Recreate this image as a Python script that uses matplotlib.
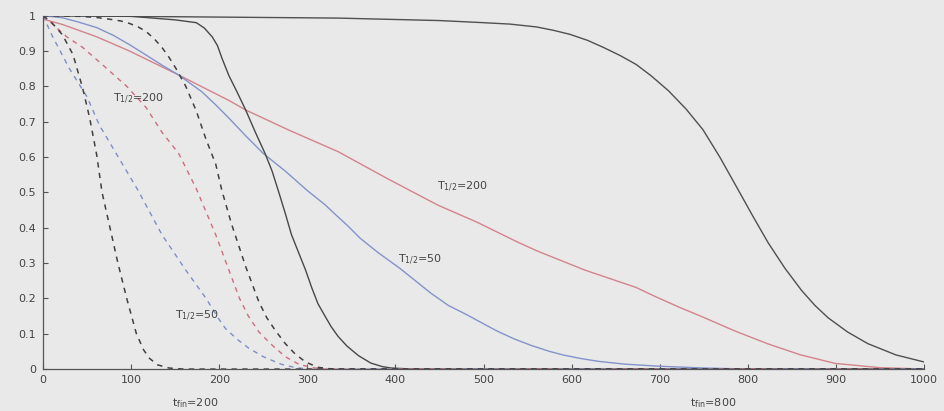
import matplotlib
matplotlib.use("Agg")
import matplotlib.pyplot as plt

plt.rcParams['font.family'] = ['DejaVu Sans']
plt.rcParams['mathtext.default'] = 'regular'

# ---- data ----
# solid black, t_fin = 200
bsa_x = [0, 100, 150, 174, 183, 192, 198, 203, 211, 220, 230, 241, 252, 260, 267, 275, 282, 290, 298,
         305, 312, 320, 327, 335, 345, 358, 372, 385, 395, 420, 1000]
bsa_y = [1.0, 0.998, 0.988, 0.98, 0.965, 0.94, 0.915, 0.88, 0.83, 0.785, 0.733, 0.67, 0.61, 0.56, 0.505,
         0.44, 0.38, 0.33, 0.28, 0.23, 0.185, 0.15, 0.12, 0.092, 0.065, 0.038, 0.017, 0.007, 0.003, 0.0, 0.0]
# solid black, t_fin = 800
bsb_x = [0, 335, 450, 500, 530, 560, 580, 598, 618, 636, 655, 673, 690, 710, 730, 749, 768, 786, 805,
         823, 842, 861, 876, 891, 913, 936, 968, 1000]
bsb_y = [1.0, 0.993, 0.986, 0.98, 0.976, 0.968, 0.958, 0.947, 0.93, 0.91, 0.887, 0.862, 0.83, 0.787,
         0.735, 0.677, 0.60, 0.52, 0.435, 0.357, 0.285, 0.222, 0.18, 0.145, 0.105, 0.072, 0.04, 0.02]
# solid blue, T1/2 = 50
bs_x = [0, 22, 40, 61, 80, 98, 116, 135, 154, 180, 195, 211, 230, 250, 275, 300, 320, 335, 346, 360,
        380, 405, 425, 440, 460, 480, 500, 515, 535, 555, 575, 590, 610, 630, 660, 700, 750, 800, 1000]
bs_y = [1.0, 0.994, 0.982, 0.966, 0.944, 0.918, 0.89, 0.86, 0.832, 0.785, 0.75, 0.71, 0.66, 0.61, 0.56,
        0.505, 0.465, 0.43, 0.405, 0.37, 0.33, 0.285, 0.245, 0.215, 0.18, 0.155, 0.128, 0.108, 0.085,
        0.066, 0.05, 0.04, 0.03, 0.022, 0.014, 0.008, 0.003, 0.0, 0.0]
# solid red, T1/2 = 200
rs_x = [0, 22, 61, 98, 154, 211, 230, 280, 335, 390, 448, 493, 538, 560, 615, 673, 695, 722, 749, 785,
        823, 860, 899, 950, 1000]
rs_y = [0.99, 0.975, 0.94, 0.90, 0.832, 0.76, 0.733, 0.675, 0.615, 0.54, 0.464, 0.415, 0.36, 0.335,
        0.28, 0.231, 0.205, 0.175, 0.147, 0.108, 0.071, 0.04, 0.016, 0.004, 0.0]
# dashed black (steep)
bda_x = [0, 10, 22, 34, 45, 53, 61, 67, 76, 85, 95, 106, 114, 121, 130, 143, 160, 1000]
bda_y = [1.0, 0.98, 0.946, 0.89, 0.795, 0.71, 0.605, 0.5, 0.40, 0.30, 0.20, 0.10, 0.055, 0.03, 0.012,
         0.003, 0.0, 0.0]
# dashed black (later)
bdb_x = [0, 40, 60, 75, 88, 98, 108, 117, 126, 135, 143, 151, 162, 174, 185, 196, 203, 214, 222, 230,
         245, 254, 264, 275, 286, 298, 312, 325, 340, 1000]
bdb_y = [1.0, 0.998, 0.995, 0.99, 0.985, 0.978, 0.968, 0.955, 0.935, 0.91, 0.882, 0.85, 0.80, 0.73,
         0.65, 0.58, 0.505, 0.41, 0.35, 0.29, 0.19, 0.145, 0.108, 0.072, 0.043, 0.02, 0.005, 0.001, 0.0, 0.0]
# dashed blue
bud_x = [0, 11, 30, 50, 64, 83, 108, 135, 162, 185, 200, 207, 220, 233, 250, 270, 285, 300, 1000]
bud_y = [1.0, 0.94, 0.85, 0.77, 0.69, 0.61, 0.505, 0.38, 0.28, 0.20, 0.14, 0.115, 0.085, 0.06, 0.035,
         0.014, 0.005, 0.0, 0.0]
# dashed red
rd_x = [0, 27, 45, 68, 95, 117, 135, 154, 174, 185, 196, 205, 214, 223, 233, 245, 259, 275, 290, 305,
        320, 1000]
rd_y = [1.0, 0.94, 0.91, 0.86, 0.80, 0.74, 0.67, 0.61, 0.51, 0.445, 0.38, 0.32, 0.26, 0.2, 0.15, 0.105,
        0.07, 0.035, 0.014, 0.004, 0.0, 0.0]

x_ticks = [0, 100, 200, 300, 400, 500, 600, 700, 800, 900, 1000]
x_tick_labels = ['0', '100', '200', '300', '400', '500', '600', '700', '800', '900', '1000']
y_ticks = [0, 0.1, 0.2, 0.3, 0.4, 0.5, 0.6, 0.7, 0.8, 0.9, 1]
y_tick_labels = ['0', '0.1', '0.2', '0.3', '0.4', '0.5', '0.6', '0.7', '0.8', '0.9', '1']

annotations = [
    (79, 0.765, r'$T_{1/2}$=200'),
    (150, 0.15, r'$T_{1/2}$=50'),
    (447, 0.515, r'$T_{1/2}$=200'),
    (403, 0.31, r'$T_{1/2}$=50'),
]
bottom_labels = [(146, r'$t_{fin}$=200'), (734, r'$t_{fin}$=800')]

# ---- drawing ----
bg = '#e9e9e9'
fig = plt.figure(figsize=(9.45, 4.11), dpi=100, facecolor=bg)
ax = fig.add_axes([0.0455, 0.102, 0.9325, 0.860], facecolor=bg)

dash = (0, (3.5, 3.5))
ax.plot(bsb_x, bsb_y, color='#505050', lw=1.0)
ax.plot(rs_x, rs_y, color='#d4838b', lw=1.0)
ax.plot(bs_x, bs_y, color='#8393cb', lw=1.0)
ax.plot(bsa_x, bsa_y, color='#484848', lw=1.0)
ax.plot(bud_x, bud_y, color='#7d8ec8', lw=1.0, linestyle=dash)
ax.plot(rd_x, rd_y, color='#d06c7c', lw=1.0, linestyle=dash)
ax.plot(bdb_x, bdb_y, color='#404040', lw=1.1, linestyle=dash)
ax.plot(bda_x, bda_y, color='#404040', lw=1.1, linestyle=dash)

ax.set_xlim(0, 1000)
ax.set_ylim(0, 1)
ax.set_xticks(x_ticks)
ax.set_xticklabels(x_tick_labels)
ax.set_yticks(y_ticks)
ax.set_yticklabels(y_tick_labels)

for s in ['top', 'right']:
    ax.spines[s].set_visible(False)
for s in ['left', 'bottom']:
    ax.spines[s].set_color('#555555')
    ax.spines[s].set_linewidth(0.9)

ax.tick_params(direction='in', length=3.5, width=0.8, color='#555555',
               labelsize=8, labelcolor='#444444')
ax.tick_params(axis='y', pad=5)
ax.tick_params(axis='x', pad=4)

for x, y, t in annotations:
    ax.text(x, y, t, fontsize=8, color='#444444', va='center', ha='left')
for x, t in bottom_labels:
    ax.text(x, -0.097, t, fontsize=8, color='#444444', va='center', ha='left')

fig.savefig('out.png', dpi=100, facecolor=bg)
